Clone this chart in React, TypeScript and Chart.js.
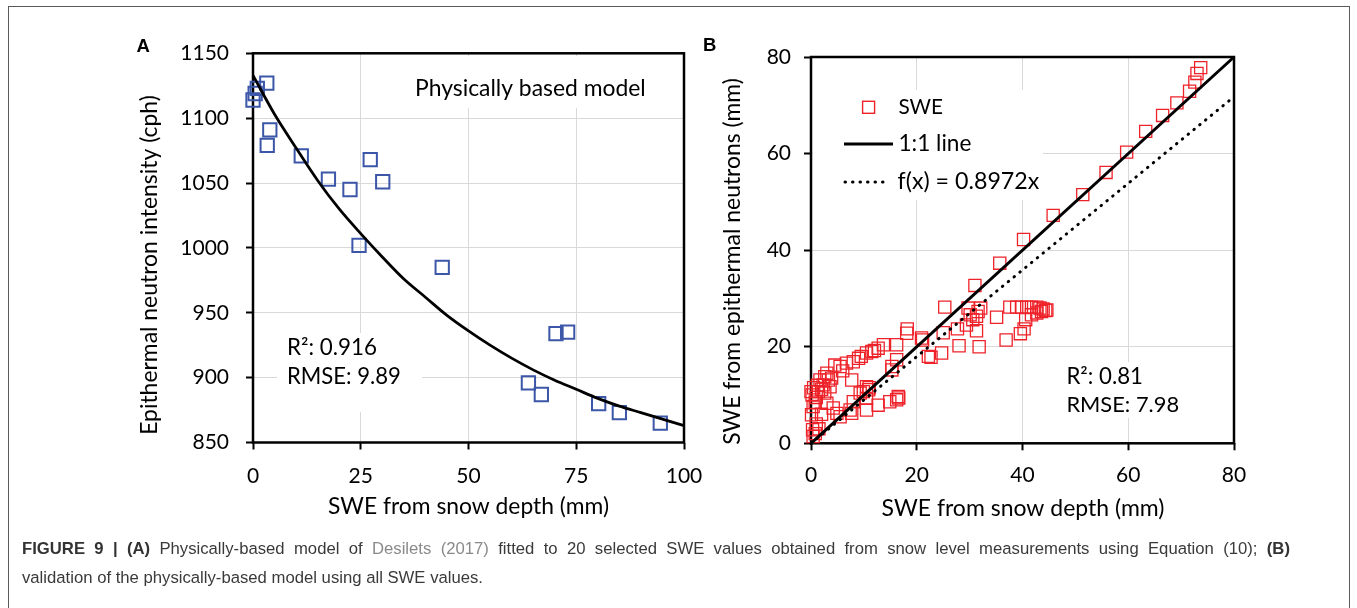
import React, { useEffect, useRef } from 'react';
import { Chart, registerables } from 'chart.js';

Chart.register(...registerables);

// ---------------- Panel A data ----------------
const aSweDepth = [0, 0.5, 1.0, 3.2, 3.9, 3.3, 11.2, 17.5, 22.5, 27.2, 30.1, 24.6, 43.9, 70.3, 73.0, 63.9, 66.9, 80.2, 85.0, 94.5];
const aNeutron = [1114, 1119, 1123, 1127, 1091, 1079, 1071, 1053, 1045, 1068, 1051, 1002, 985, 934, 935, 896, 887, 880, 873, 865];
const aModelSwe = [0, 5, 10, 15, 20, 25, 30, 35, 40, 45, 50, 55, 60, 65, 70, 75, 80, 85, 90, 95, 100];
const aModelNeutron = [1133, 1103, 1077, 1052, 1030, 1011, 993, 976, 962, 948, 936, 925, 915, 906, 898, 891, 884, 878, 873, 868, 863];
const aXTicks = [0, 25, 50, 75, 100];
const aYTicks = [850, 900, 950, 1000, 1050, 1100, 1150];

// ---------------- Panel B data ----------------
const bSweDepth = [
  31.0, 35.7, 40.2, 45.8, 51.4, 55.8, 59.7, 63.3, 66.5, 69.2, 71.6, 72.6, 73.0, 73.7,
  25.3, 18.2, 21.1, 25.0, 22.7, 24.7, 28.0, 31.8, 27.7, 29.4, 31.3, 29.7, 30.1, 31.3, 31.6, 30.6, 32.1, 35.1,
  36.9, 39.6, 40.3, 40.6, 37.6, 38.9, 39.8, 40.8, 41.7, 42.7, 43.3, 43.9, 44.6, 42.7, 43.6, 44.4, 41.7,
  0.4, 0.3, 0.8, 0.1, 0.4, 0.0, 0.2, 0.5, 1.0, 1.4, 1.7, 2.6, 3.3, 3.9, 2.3, 3.6, 2.6, 1.2, 2.0, 3.0, 0.8,
  4.5, 5.5, 6.7, 8.0, 9.0, 10.5, 11.5, 12.7, 13.7, 16.2, 12.0, 9.5, 7.7, 15.3, 16.2,
  3.0, 4.2, 4.9, 5.5, 7.4, 8.0, 10.5, 9.9, 10.9, 7.7, 10.5, 12.7, 14.9, 16.5, 16.2, 16.6, 2.0, 1.0,
  22.2, 20.9, 18.1, 6.0, 11.0, 1.5, 15.3, 10.5, 9.3,
];
const bSweNeutron = [
  32.7, 37.3, 42.2, 47.2, 51.5, 56.1, 60.3, 64.6, 67.9, 70.5, 72.9, 74.8, 76.6, 77.8,
  28.2, 23.7, 21.4, 22.9, 17.8, 18.7, 20.2, 20.0, 23.7, 24.5, 23.3, 28.0, 26.6, 26.3, 27.3, 25.6, 28.0, 26.1,
  21.4, 22.7, 23.7, 25.6, 28.2, 28.2, 28.2, 28.2, 28.2, 28.2, 28.0, 27.8, 27.6, 27.0, 27.3, 27.5, 26.6,
  1.4, 2.8, 2.0, 5.9, 7.6, 10.7, 10.0, 11.5, 9.5, 10.7, 13.1, 13.8, 13.1, 13.5, 12.1, 11.7, 10.4, 12.0, 11.2, 14.5, 8.5,
  16.2, 15.9, 16.6, 16.9, 17.6, 18.7, 19.0, 19.7, 20.4, 20.4, 19.2, 18.0, 13.1, 15.9, 17.3,
  8.3, 7.3, 6.2, 5.5, 6.9, 8.6, 9.3, 10.7, 11.1, 6.2, 6.9, 7.9, 8.6, 9.7, 9.0, 9.4, 6.0, 4.0,
  18.0, 21.8, 22.8, 15.0, 11.5, 3.0, 15.2, 11.7, 10.4,
];
const bLineDepth = [0, 80];
const bOneToOne = [0, 80];
const bFitValues = [0, 71.78];
const bTicks = [0, 20, 40, 60, 80];

const BLUE = '#3c56a8';
const RED = '#ee2229';
const GRID = '#d9d9d9';
const FONT = 'Lato';

type TextItem = {
  t: string; x: number; y: number; w?: number; size?: number;
  align?: CanvasTextAlign; rot?: boolean; bold?: boolean; family?: string;
};

const decoPlugin = {
  id: 'deco',
  beforeDatasetsDraw(chart: any, _a: any, opts: any) {
    const ctx = chart.ctx as CanvasRenderingContext2D;
    const { left, top, right, bottom } = chart.chartArea;
    ctx.save();
    ctx.fillStyle = '#fff';
    for (const b of opts.boxes || []) {
      ctx.fillRect(b[0] - opts.ox, b[1] - opts.oy, b[2] - b[0], b[3] - b[1]);
    }
    ctx.strokeStyle = '#000';
    ctx.lineWidth = 2.5;
    ctx.strokeRect(left, top, right - left, bottom - top);
    ctx.restore();
  },
  afterDatasetsDraw(chart: any, _a: any, opts: any) {
    const ctx = chart.ctx as CanvasRenderingContext2D;
    const ox = opts.ox, oy = opts.oy;
    ctx.save();
    for (const it of (opts.texts || []) as TextItem[]) {
      const fam = it.family || FONT;
      const wt = it.bold ? 'bold ' : '';
      let size = it.size || 21;
      ctx.font = `${wt}${size}px ${fam}`;
      if (it.w) {
        const m = ctx.measureText(it.t).width;
        size = (size * it.w) / m;
        ctx.font = `${wt}${size}px ${fam}`;
      }
      ctx.fillStyle = '#000';
      ctx.textBaseline = 'middle';
      ctx.textAlign = it.align || 'left';
      ctx.save();
      ctx.translate(it.x - ox, it.y - oy);
      if (it.rot) ctx.rotate(-Math.PI / 2);
      ctx.fillText(it.t, 0, 0);
      ctx.restore();
    }
    if (opts.legend) {
      ctx.strokeStyle = RED;
      ctx.lineWidth = 1.4;
      ctx.strokeRect(862.6 - ox, 101.3 - oy, 12, 12);
      ctx.strokeStyle = '#000';
      ctx.lineWidth = 3;
      ctx.beginPath();
      ctx.moveTo(844 - ox, 144 - oy);
      ctx.lineTo(893 - ox, 144 - oy);
      ctx.stroke();
      ctx.setLineDash([0.5, 7]);
      ctx.lineCap = 'round';
      ctx.beginPath();
      ctx.moveTo(845 - ox, 182 - oy);
      ctx.lineTo(887 - ox, 182 - oy);
      ctx.stroke();
      ctx.setLineDash([]);
    }
    ctx.restore();
  },
};

function makeAxis(min: number, max: number, ticks: number[], fitSize: number, horizontal: boolean, pad: number) {
  return {
    type: 'linear',
    min,
    max,
    afterBuildTicks: (s: any) => {
      s.ticks = ticks.map((v) => ({ value: v }));
    },
    afterFit: (s: any) => {
      if (horizontal) s.height = fitSize;
      else s.width = fitSize;
    },
    ticks: {
      font: { family: FONT, size: 21 },
      color: '#000',
      padding: pad,
      callback: (v: any) => String(v),
    },
    grid: { color: GRID, lineWidth: 1, tickColor: '#000', tickLength: 7, tickWidth: 2 },
    border: { display: false },
  };
}

const toPts = (xs: number[], ys: number[]) => xs.map((x, i) => ({ x, y: ys[i] }));

function configA(): any {
  return {
    type: 'scatter',
    data: {
      datasets: [
        {
          type: 'line',
          data: toPts(aModelSwe, aModelNeutron),
          borderColor: '#000',
          borderWidth: 2.75,
          pointRadius: 0,
          cubicInterpolationMode: 'monotone',
          fill: false,
          clip: false,
        },
        {
          data: toPts(aSweDepth, aNeutron),
          pointStyle: 'rect',
          pointRadius: 9.4,
          pointBorderColor: BLUE,
          borderColor: BLUE,
          pointBackgroundColor: 'rgba(0,0,0,0)',
          backgroundColor: 'rgba(0,0,0,0)',
          pointBorderWidth: 2,
          clip: false,
        },
      ],
    },
    options: {
      responsive: false,
      animation: false,
      events: [],
      layout: { padding: { left: 0, top: 33.3, right: 35, bottom: 0 } },
      plugins: {
        legend: { display: false },
        tooltip: { enabled: false },
        deco: {
          ox: 120,
          oy: 20,
          boxes: [
            [405, 56, 683, 108],
            [277, 333, 422, 412],
          ],
          texts: [
            { t: 'A', x: 143.3, y: 46.7, size: 18.5, bold: true, family: '"Liberation Sans"', align: 'center' },
            { t: 'Epithermal neutron intensity (cph)', x: 150, y: 265, w: 340, rot: true, align: 'center' },
            { t: 'SWE from snow depth (mm)', x: 468.5, y: 507, w: 281, align: 'center' },
            { t: 'Physically based model', x: 415, y: 89, w: 231 },
            { t: 'R²: 0.916', x: 287, y: 348, w: 90 },
            { t: 'RMSE: 9.89', x: 287, y: 377, w: 114 },
          ],
        },
      },
      scales: {
        x: makeAxis(0, 100, aXTicks, 97.5, true, 14),
        y: makeAxis(850, 1150, aYTicks, 133, false, 17),
      },
    },
    plugins: [decoPlugin],
  };
}

function configB(): any {
  return {
    type: 'scatter',
    data: {
      datasets: [
        {
          type: 'line',
          data: toPts(bLineDepth, bOneToOne),
          borderColor: '#000',
          borderWidth: 3,
          pointRadius: 0,
          fill: false,
          clip: false,
        },
        {
          type: 'line',
          data: toPts(bLineDepth, bFitValues),
          borderColor: '#000',
          borderWidth: 3,
          borderDash: [0.5, 7],
          borderCapStyle: 'round',
          pointRadius: 0,
          fill: false,
          clip: false,
        },
        {
          data: toPts(bSweDepth, bSweNeutron),
          pointStyle: 'rect',
          pointRadius: 8.6,
          pointBorderColor: RED,
          borderColor: RED,
          pointBackgroundColor: 'rgba(0,0,0,0)',
          backgroundColor: 'rgba(0,0,0,0)',
          pointBorderWidth: 1.3,
          clip: false,
        },
      ],
    },
    options: {
      responsive: false,
      animation: false,
      events: [],
      layout: { padding: { left: 0, top: 27, right: 36, bottom: 0 } },
      plugins: {
        legend: { display: false },
        tooltip: { enabled: false },
        deco: {
          ox: 690,
          oy: 30,
          legend: true,
          boxes: [
            [813, 90, 1043, 200],
            [1058, 362, 1190, 418],
          ],
          texts: [
            { t: 'B', x: 709.6, y: 46, size: 18.5, bold: true, family: '"Liberation Sans"', align: 'center' },
            { t: 'SWE from epithermal neutrons (mm)', x: 733, y: 261.5, w: 367, rot: true, align: 'center' },
            { t: 'SWE from snow depth (mm)', x: 1023, y: 508.3, w: 283, align: 'center' },
            { t: 'R²: 0.81', x: 1066.4, y: 376.7, w: 76.6 },
            { t: 'RMSE: 7.98', x: 1066.4, y: 405, w: 112.7 },
            { t: 'SWE', x: 898.4, y: 107, w: 44.7 },
            { t: '1:1 line', x: 898.4, y: 144, w: 73 },
            { t: 'f(x) = 0.8972x', x: 897.6, y: 182, w: 141.8 },
          ],
        },
      },
      scales: {
        x: makeAxis(0, 80, bTicks, 96.7, true, 12),
        y: makeAxis(0, 80, bTicks, 121, false, 13),
      },
    },
    plugins: [decoPlugin],
  };
}

function Panel({ make, left, top, width, height }: { make: () => any; left: number; top: number; width: number; height: number }) {
  const ref = useRef<HTMLCanvasElement>(null);
  useEffect(() => {
    const chart = new Chart(ref.current as HTMLCanvasElement, make());
    return () => chart.destroy();
  }, [make]);
  return (
    <canvas
      ref={ref}
      width={width}
      height={height}
      style={{ position: 'absolute', left, top, width, height }}
    />
  );
}

const captionStyle: React.CSSProperties = {
  position: 'absolute',
  left: 22,
  width: 1268,
  fontFamily: '"Liberation Sans", Arial, sans-serif',
  fontSize: 16.7,
  lineHeight: '29px',
  color: '#3a3a3a',
  whiteSpace: 'nowrap',
};

export default function App() {
  return (
    <div style={{ position: 'absolute', left: 0, top: 0, width: 1357, height: 608, overflow: 'hidden', background: '#fff' }}>
      <div
        style={{
          position: 'absolute',
          left: 8,
          top: 6,
          width: 1342,
          height: 700,
          border: '1.5px solid #5a5a5a',
          boxSizing: 'border-box',
        }}
      />
      <Panel make={configA} left={120} top={20} width={599} height={520} />
      <Panel make={configB} left={690} top={30} width={580} height={510} />
      <div style={{ ...captionStyle, top: 534, textAlign: 'justify', textAlignLast: 'justify' as any, whiteSpace: 'normal', height: 29, overflow: 'visible' }}>
        <b style={{ color: '#333' }}>FIGURE 9 | (A)</b> Physically-based model of{' '}
        <span style={{ color: '#8a8a8a' }}>Desilets (2017)</span> fitted to 20 selected SWE values obtained from snow level
        measurements using Equation (10); <b style={{ color: '#333' }}>(B)</b>
      </div>
      <div style={{ ...captionStyle, top: 563 }}>validation of the physically-based model using all SWE values.</div>
    </div>
  );
}
